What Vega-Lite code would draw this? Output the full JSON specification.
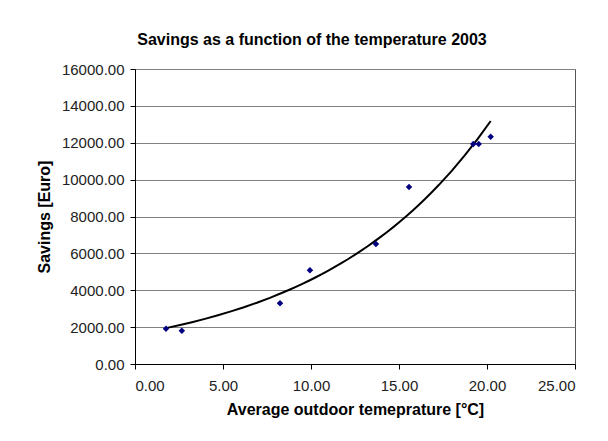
{
  "$schema": "https://vega.github.io/schema/vega-lite/v6.json",
  "width": 440,
  "height": 295,
  "autosize": {"type": "none"},
  "padding": {"left": 135, "top": 69, "right": 33, "bottom": 77},
  "background": "white",
  "title": {
    "text": "Savings as a function of the temperature 2003",
    "font": "Liberation Sans",
    "fontSize": 16,
    "fontWeight": "bold",
    "color": "black",
    "anchor": "middle",
    "dx": -43,
    "offset": 14
  },
  "data": {
    "values": [
      {"temp": 1.76, "savings": 1916},
      {"temp": 2.66, "savings": 1808},
      {"temp": 8.24, "savings": 3290},
      {"temp": 9.94, "savings": 5080},
      {"temp": 13.69, "savings": 6508},
      {"temp": 15.57, "savings": 9600},
      {"temp": 19.22, "savings": 11932},
      {"temp": 19.53, "savings": 11932},
      {"temp": 20.21, "savings": 12330}
    ]
  },
  "layer": [
    {
      "transform": [{"regression": "savings", "on": "temp", "method": "exp", "extent": [1.76, 20.21]}],
      "mark": {"type": "line", "color": "black", "strokeWidth": 2},
      "encoding": {
        "x": {"field": "temp", "type": "quantitative"},
        "y": {"field": "savings", "type": "quantitative"}
      }
    },
    {
      "mark": {"type": "point", "shape": "diamond", "filled": true, "color": "#000080", "size": 42, "opacity": 1},
      "encoding": {
        "x": {"field": "temp", "type": "quantitative"},
        "y": {"field": "savings", "type": "quantitative"}
      }
    }
  ],
  "encoding": {
    "x": {
      "field": "temp",
      "type": "quantitative",
      "scale": {"domain": [0, 25], "nice": false, "zero": false},
      "axis": {
        "title": "Average outdoor temeprature [°C]",
        "values": [0, 5, 10, 15, 20, 25],
        "format": ".2f",
        "grid": false,
        "labelPadding": 9,
        "titlePadding": 8
      }
    },
    "y": {
      "field": "savings",
      "type": "quantitative",
      "scale": {"domain": [0, 16000], "nice": false},
      "axis": {
        "title": "Savings [Euro]",
        "values": [0, 2000, 4000, 6000, 8000, 10000, 12000, 14000, 16000],
        "format": ".2f",
        "grid": true,
        "gridColor": "#808080",
        "gridOpacity": 1,
        "labelPadding": 6,
        "titlePadding": 9
      }
    }
  },
  "config": {
    "view": {"stroke": "#555555", "strokeWidth": 1},
    "axis": {
      "labelFont": "Liberation Sans",
      "labelFontSize": 15,
      "labelColor": "#222222",
      "titleFont": "Liberation Sans",
      "titleFontSize": 16,
      "titleFontWeight": "bold",
      "titleColor": "black",
      "domainColor": "black",
      "domainWidth": 1,
      "tickColor": "black",
      "tickSize": 5,
      "tickWidth": 1
    }
  }
}
